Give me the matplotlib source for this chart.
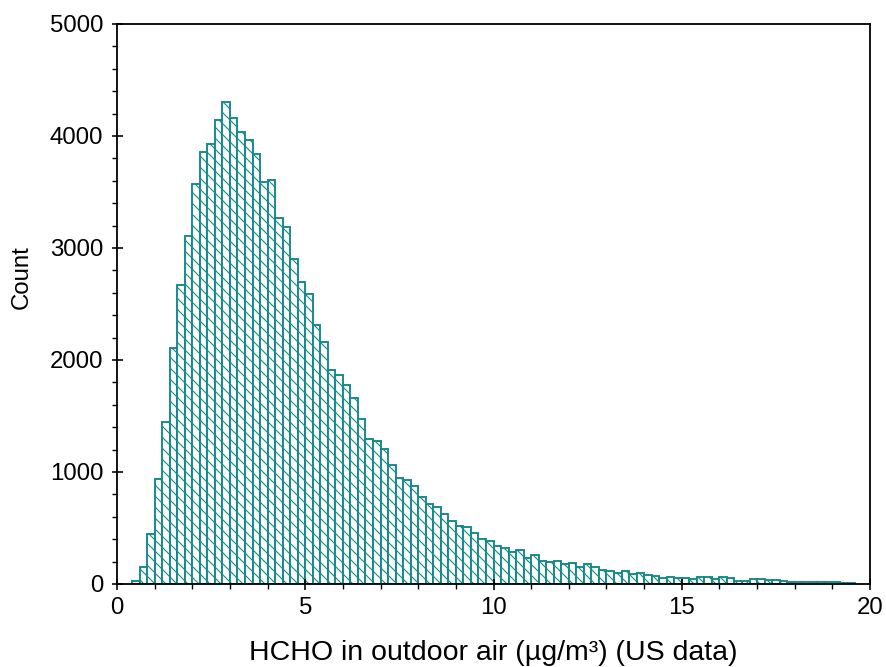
import numpy as np
import matplotlib
matplotlib.use("Agg")
import matplotlib.pyplot as plt
from matplotlib.ticker import MultipleLocator

# histogram of HCHO (outdoor air, US data), bins of 0.2 ug/m3 starting at 0.4
bin_start = 0.4
bin_width = 0.2
counts = [
    25, 150, 450, 940, 1450, 2110, 2670, 3110, 3570, 3855,
    3925, 4140, 4300, 4165, 4040, 3965, 3840, 3585, 3610, 3270,
    3185, 2905, 2700, 2590, 2310, 2165, 1915, 1865, 1780, 1660,
    1475, 1295, 1275, 1205, 1065, 950, 925, 875, 780, 715,
    690, 628, 562, 515, 508, 458, 404, 383, 340, 318,
    290, 304, 232, 255, 205, 200, 205, 182, 185, 148,
    175, 152, 125, 115, 102, 112, 90, 98, 78, 74,
    58, 61, 58, 50, 45, 62, 60, 45, 60, 54,
    30, 30, 42, 42, 36, 32, 30, 22, 15, 20,
    22, 15, 18, 14, 10, 10,
]

xlabel = "HCHO in outdoor air (µg/m³) (US data)"
ylabel = "Count"
teal = "#138a8a"

DPI = 66
def px(v):
    # pixel -> point at this dpi
    return v * 72.0 / DPI

plt.rcParams['font.family'] = ['Liberation Sans', 'DejaVu Sans']
plt.rcParams['hatch.linewidth'] = px(1.1)

fig = plt.figure(figsize=(886 / DPI, 667 / DPI), dpi=DPI)
ax = fig.add_axes([117 / 886, 1 - 584 / 667, (870 - 117) / 886, (584 - 24) / 667])

lefts = bin_start + bin_width * np.arange(len(counts))
ax.bar(lefts, counts, width=bin_width, align='edge', color='white',
       edgecolor=teal, hatch='\\\\', linewidth=px(1.9))

ax.set_xlim(0, 20)
ax.set_ylim(0, 5000)
ax.xaxis.set_major_locator(MultipleLocator(5))
ax.xaxis.set_minor_locator(MultipleLocator(1))
ax.yaxis.set_major_locator(MultipleLocator(1000))
ax.yaxis.set_minor_locator(MultipleLocator(200))

for s in ax.spines.values():
    s.set_linewidth(px(1.8))
ax.tick_params(which='major', direction='inout', length=px(11), width=px(1.6),
               pad=px(8), labelsize=px(24))
ax.tick_params(which='minor', direction='out', length=px(5), width=px(1.4))

ax.set_xlabel(xlabel, fontsize=px(28.5))
ax.set_ylabel(ylabel, fontsize=px(24))
ax.xaxis.set_label_coords(0.5, -0.1)
ax.yaxis.set_label_coords(-0.112, 0.548)

fig.savefig("out.png", dpi=DPI)
